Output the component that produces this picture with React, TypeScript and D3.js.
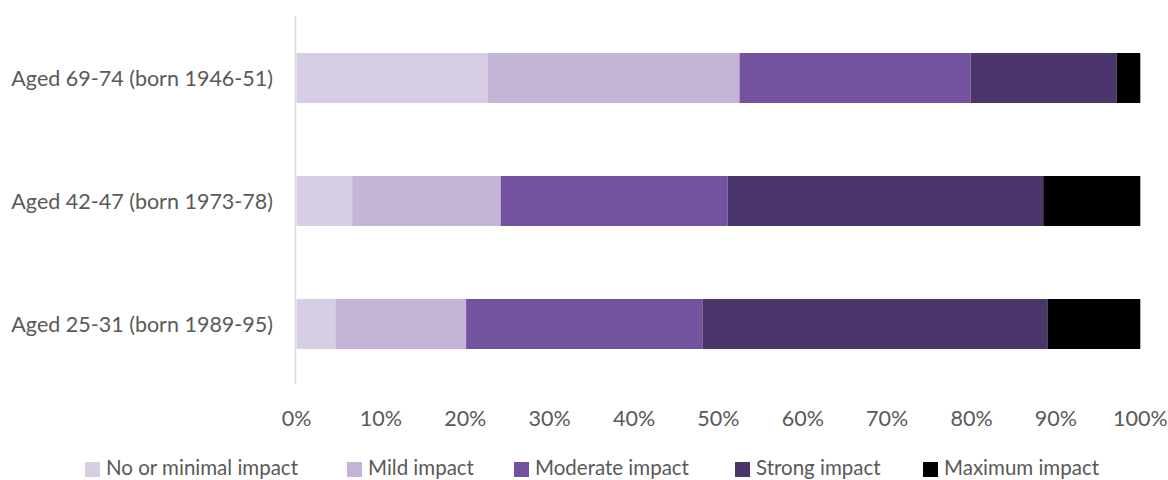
import React from "react";
import * as d3 from "d3";

const categories = [
  "Aged 69-74 (born 1946-51)",
  "Aged 42-47 (born 1973-78)",
  "Aged 25-31 (born 1989-95)",
];
const seriesNames = [
  "No or minimal impact",
  "Mild impact",
  "Moderate impact",
  "Strong impact",
  "Maximum impact",
];
const noMinimal = [22.7, 6.6, 4.6];
const mild = [29.8, 17.6, 15.5];
const moderate = [27.4, 26.9, 28.0];
const strong = [17.3, 37.4, 40.9];
const maximum = [2.8, 11.5, 11.0];
const tickValues = [0, 10, 20, 30, 40, 50, 60, 70, 80, 90, 100];
const colors = ["#D7CEE6", "#C4B5D8", "#7352A0", "#4B366B", "#000000"];

const W = 1168;
const H = 480;
const FONT = "Lato, 'Open Sans', sans-serif";
const TEXT = "#595959";
const FS = 21.5;
const LFS = 20.5;

export default function App() {
  const seriesValues = [noMinimal, mild, moderate, strong, maximum];
  const rows = categories.map((c, i) => {
    const r: any = { cat: c };
    seriesNames.forEach((s, j) => (r[s] = seriesValues[j][i]));
    return r;
  });
  const stack = d3.stack<any>().keys(seriesNames)(rows);

  const x = d3.scaleLinear().domain([0, 100]).range([296.5, 1140.3]);
  const y = d3
    .scaleBand<string>()
    .domain(categories)
    .range([16.5, 385.5])
    .paddingInner(0.5935)
    .paddingOuter(0.5935 / 2);

  const legendX = [85, 347, 514, 735, 923];

  return (
    <svg
      width={W}
      height={H}
      style={{ position: "absolute", left: 0, top: 0, background: "#fff" }}
      fontFamily={FONT}
    >
      <rect width={W} height={H} fill="#fff" />
      {stack.map((layer, j) =>
        layer.map((d, i) => (
          <rect
            key={`${j}-${i}`}
            x={x(d[0])}
            y={y(categories[i])}
            width={x(d[1]) - x(d[0])}
            height={y.bandwidth()}
            fill={colors[j]}
          />
        ))
      )}
      <line x1={295.5} x2={295.5} y1={16.5} y2={384} stroke="#D9D9D9" strokeWidth={1.5} />
      {categories.map((c) => (
        <text
          key={c}
          x={273}
          y={(y(c) as number) + y.bandwidth() / 2}
          textAnchor="end"
          dominantBaseline="central"
          fontSize={FS}
          fill={TEXT}
        >
          {c}
        </text>
      ))}
      {tickValues.map((t) => (
        <text
          key={t}
          x={x(t)}
          y={418}
          textAnchor="middle"
          dominantBaseline="central"
          fontSize={FS}
          fill={TEXT}
        >
          {t}%
        </text>
      ))}
      {seriesNames.map((s, j) => (
        <g key={s} transform={`translate(${legendX[j]},0)`}>
          <rect x={0} y={462} width={15} height={15} fill={colors[j]} />
          <text x={21} y={474.5} fontSize={LFS} fill={TEXT}>
            {s}
          </text>
        </g>
      ))}
    </svg>
  );
}
